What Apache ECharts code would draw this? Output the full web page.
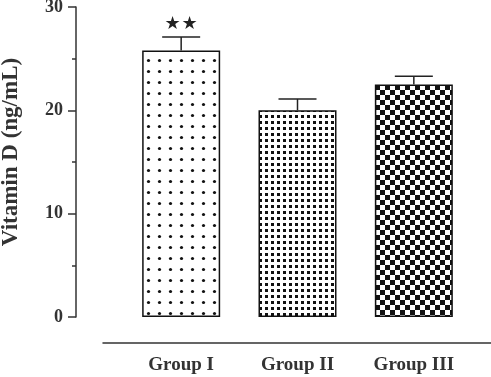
<!DOCTYPE html>
<html>
<head>
<meta charset="utf-8">
<script src="https://cdn.jsdelivr.net/npm/echarts@6/dist/echarts.min.js"></script>
<style>
html,body{margin:0;padding:0;background:#fff;}
#chart{width:491px;height:377px;}
</style>
</head>
<body>
<div id="chart"></div>
<script>
var groups = ['Group I', 'Group II', 'Group III'];
var means = [25.8, 20.0, 22.5];
var upper = [27.1, 21.1, 23.3];
var marks = [2, 0, 0];   // number of stars above each bar
var yTicks = [0, 10, 20, 30];

// fill patterns: sparse dots, dense dots, checkerboard
function makePattern(kind) {
    var c = document.createElement('canvas');
    var g;
    if (kind == 'sparse') {
        c.width = 11; c.height = 11;
        g = c.getContext('2d');
        g.fillStyle = '#fff'; g.fillRect(0, 0, 11, 11);
        g.fillStyle = '#111';
        g.beginPath(); g.arc(5.5, 5.5, 1.6, 0, Math.PI * 2); g.fill();
    } else if (kind == 'dense') {
        c.width = 6; c.height = 6;
        g = c.getContext('2d');
        g.fillStyle = '#fff'; g.fillRect(0, 0, 6, 6);
        g.fillStyle = '#111'; g.fillRect(1, 1, 3, 3);
    } else {
        c.width = 10; c.height = 10;
        g = c.getContext('2d');
        g.fillStyle = '#fff'; g.fillRect(0, 0, 10, 10);
        g.fillStyle = '#111';
        g.fillRect(0, 0, 5, 5); g.fillRect(5, 5, 5, 5);
    }
    return c;
}
var fills = [makePattern('sparse'), makePattern('dense'), makePattern('checker')];

var font = 'Liberation Serif';
var myChart = echarts.init(document.getElementById('chart'));
var option = {
    animation: false,
    grid: [
        {left: 123, right: 19, top: 7, bottom: 60, outerBoundsMode: 'none', containLabel: false},
        {left: 103, right: 0, top: 333, height: 10, outerBoundsMode: 'none', containLabel: false}
    ],
    xAxis: [
        {
            type: 'category',
            data: groups,
            gridIndex: 0,
            axisLine: {show: false},
            axisTick: {show: false},
            axisLabel: {
                margin: 39,
                color: '#333',
                fontFamily: font,
                fontWeight: 'bold',
                fontSize: 19
            }
        },
        {
            type: 'value',
            gridIndex: 1,
            axisLine: {show: true, lineStyle: {color: '#333', width: 1.5}},
            axisTick: {show: false},
            axisLabel: {show: false},
            splitLine: {show: false}
        }
    ],
    yAxis: [
        {
            type: 'value',
            gridIndex: 0,
            min: yTicks[0],
            max: yTicks[yTicks.length - 1],
            interval: 10,
            offset: 47,
            axisLine: {show: true, lineStyle: {color: '#333', width: 1.5}},
            axisTick: {show: true, length: 8, lineStyle: {color: '#333', width: 1.5}},
            minorTick: {show: true, splitNumber: 2, length: 4, lineStyle: {color: '#333', width: 1.5}},
            splitLine: {show: false},
            axisLabel: {
                margin: 13,
                color: '#333',
                fontFamily: font,
                fontWeight: 'bold',
                fontSize: 18
            },
            name: 'Vitamin D (ng/mL)',
            nameLocation: 'middle',
            nameGap: 53,
            nameTextStyle: {
                color: '#333',
                fontFamily: font,
                fontWeight: 'bold',
                fontSize: 23,
                padding: [0, 0, 0, 20]
            }
        },
        {type: 'value', gridIndex: 1, show: false}
    ],
    series: [
        {
            type: 'bar',
            barWidth: 78,
            data: means.map(function (v, i) {
                return {
                    value: v,
                    itemStyle: {
                        color: {image: fills[i], repeat: 'repeat'},
                        borderColor: '#111',
                        borderWidth: 1.5
                    }
                };
            })
        },
        {
            type: 'custom',
            data: means.map(function (v, i) { return [i, v, upper[i]]; }),
            z: 5,
            renderItem: function (params, api) {
                var base = api.coord([api.value(0), api.value(1)]);
                var top = api.coord([api.value(0), api.value(2)]);
                var st = {stroke: '#222', lineWidth: 1.5};
                var kids = [
                    {type: 'line', shape: {x1: base[0], y1: base[1], x2: top[0], y2: top[1]}, style: st},
                    {type: 'line', shape: {x1: top[0] - 19, y1: top[1], x2: top[0] + 19, y2: top[1]}, style: st}
                ];
                var n = marks[params.dataIndex];
                for (var k = 0; k < n; k++) {
                    kids.push({
                        type: 'text',
                        x: top[0] + (k - (n - 1) / 2) * 17,
                        y: top[1] - 4,
                        style: {
                            text: '★', fill: '#222',
                            font: '18px "DejaVu Sans"',
                            align: 'center', verticalAlign: 'bottom'
                        }
                    });
                }
                return {type: 'group', children: kids};
            }
        }
    ]
};
myChart.setOption(option, true);
</script>
</body>
</html>
